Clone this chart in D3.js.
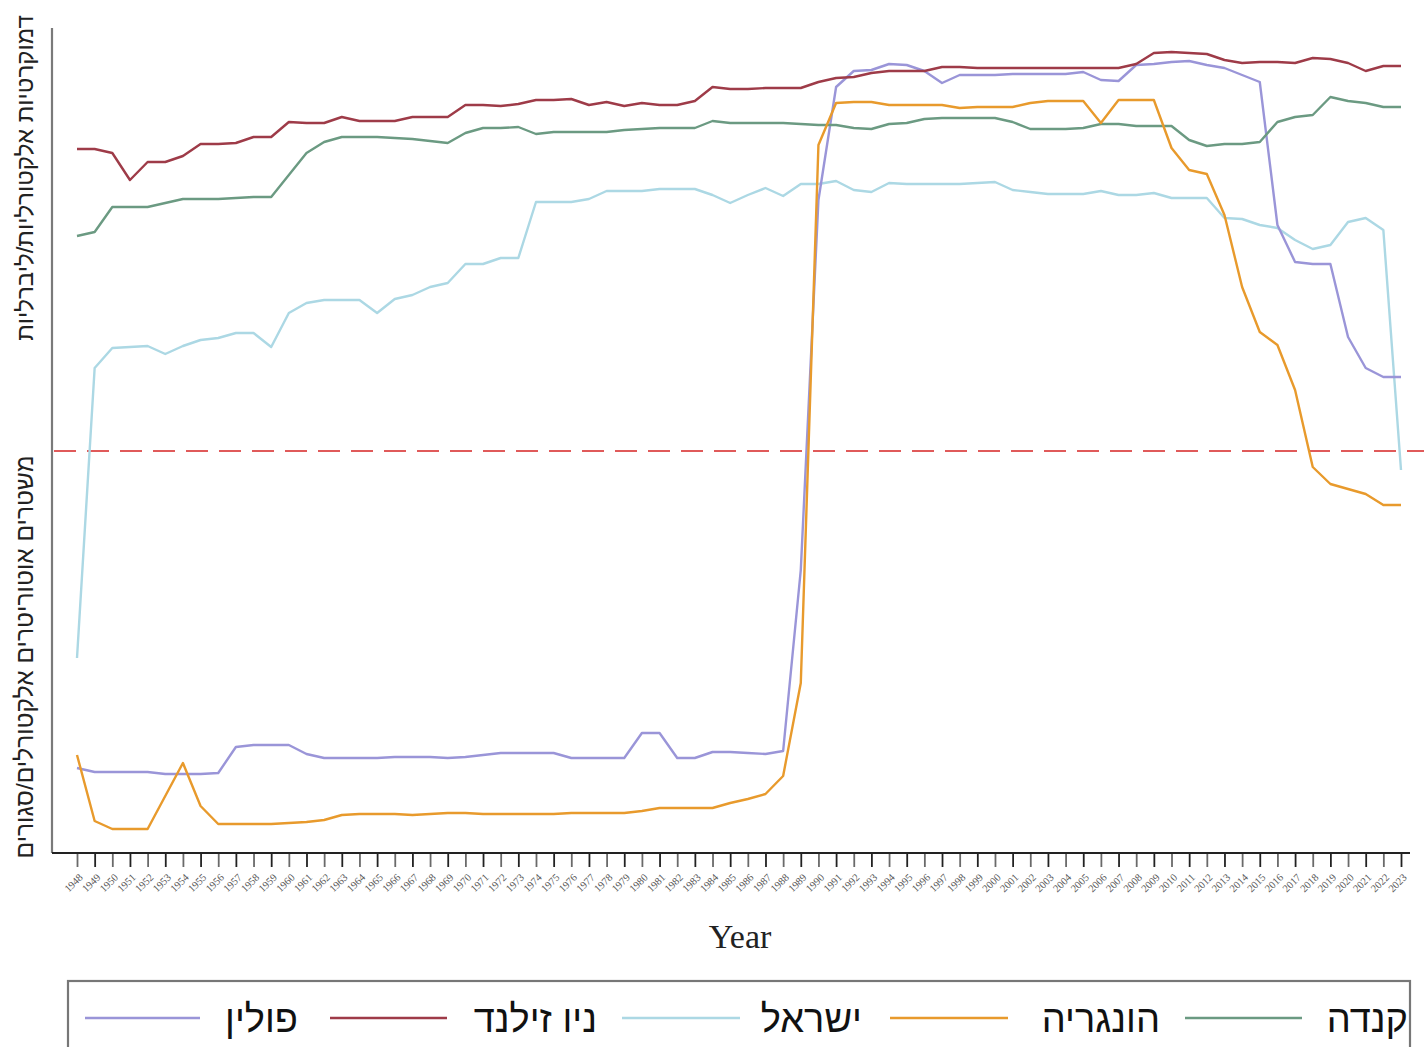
<!DOCTYPE html>
<html lang="he">
<head>
<meta charset="utf-8">
<script src="https://cdn.jsdelivr.net/npm/d3@7/dist/d3.min.js"></script>
<style>
  html, body { margin: 0; padding: 0; background: #fff; }
  svg { display: block; }
</style>
</head>
<body>
<svg id="chart" width="1424" height="1047"></svg>
<script>
// ---------- DATA ----------
const years = d3.range(1948, 2024);

const canada = [6.17,6.21,6.46,6.46,6.46,6.50,6.54,6.54,6.54,6.55,6.56,6.56,6.78,7.00,7.11,7.16,7.16,7.16,7.15,7.14,
7.12,7.10,7.20,7.25,7.25,7.26,7.19,7.21,7.21,7.21,7.21,7.23,7.24,7.25,7.25,7.25,7.32,7.30,7.30,7.30,
7.30,7.29,7.28,7.28,7.25,7.24,7.29,7.30,7.34,7.35,7.35,7.35,7.35,7.31,7.24,7.24,7.24,7.25,7.29,7.29,
7.27,7.27,7.27,7.13,7.07,7.09,7.09,7.11,7.31,7.36,7.38,7.56,7.52,7.50,7.46,7.46];

const hungary = [0.98,0.32,0.24,0.24,0.24,0.57,0.90,0.47,0.29,0.29,0.29,0.29,0.30,0.31,0.33,0.38,0.39,0.39,0.39,0.38,
0.39,0.40,0.40,0.39,0.39,0.39,0.39,0.39,0.40,0.40,0.40,0.40,0.42,0.45,0.45,0.45,0.45,0.50,0.54,0.59,
0.77,1.70,7.08,7.50,7.51,7.51,7.48,7.48,7.48,7.48,7.45,7.46,7.46,7.46,7.50,7.52,7.52,7.52,7.30,7.53,
7.53,7.53,7.05,6.83,6.79,6.38,5.66,5.21,5.08,4.63,3.86,3.69,3.64,3.59,3.48,3.48];

const israel = [1.95,4.85,5.05,5.06,5.07,4.99,5.07,5.13,5.15,5.20,5.20,5.06,5.40,5.50,5.53,5.53,5.53,5.40,5.54,5.58,
5.66,5.70,5.89,5.89,5.95,5.95,6.51,6.51,6.51,6.54,6.62,6.62,6.62,6.64,6.64,6.64,6.58,6.50,6.58,6.65,
6.57,6.69,6.69,6.72,6.63,6.61,6.70,6.69,6.69,6.69,6.69,6.70,6.71,6.63,6.61,6.59,6.59,6.59,6.62,6.58,
6.58,6.60,6.55,6.55,6.55,6.35,6.34,6.28,6.25,6.13,6.04,6.08,6.31,6.35,6.23,3.83];

const newZealand = [7.04,7.04,7.00,6.73,6.91,6.91,6.97,7.09,7.09,7.10,7.16,7.16,7.31,7.30,7.30,7.36,7.32,7.32,7.32,7.36,
7.36,7.36,7.48,7.48,7.47,7.49,7.53,7.53,7.54,7.48,7.51,7.47,7.50,7.48,7.48,7.52,7.66,7.64,7.64,7.65,
7.65,7.65,7.71,7.75,7.76,7.80,7.82,7.82,7.82,7.86,7.86,7.85,7.85,7.85,7.85,7.85,7.85,7.85,7.85,7.85,
7.89,8.00,8.01,8.00,7.99,7.93,7.90,7.91,7.91,7.90,7.95,7.94,7.90,7.82,7.87,7.87];

const poland = [0.85,0.81,0.81,0.81,0.81,0.79,0.79,0.79,0.80,1.06,1.08,1.08,1.08,0.99,0.95,0.95,0.95,0.95,0.96,0.96,
0.96,0.95,0.96,0.98,1.00,1.00,1.00,1.00,0.95,0.95,0.95,0.95,1.20,1.20,0.95,0.95,1.01,1.01,1.00,0.99,
1.02,2.83,6.53,7.66,7.82,7.83,7.89,7.88,7.82,7.70,7.78,7.78,7.78,7.79,7.79,7.79,7.79,7.81,7.73,7.72,
7.88,7.89,7.91,7.92,7.88,7.85,7.78,7.71,6.28,5.91,5.89,5.89,5.16,4.85,4.76,4.76];

const threshold = 4.02;

// series in legend order (right to left)
const seriesNames = ["קנדה", "הונגריה", "ישראל", "ניו זילנד", "פולין"];
const seriesValues = [canada, hungary, israel, newZealand, poland];
const seriesColors = ["#6b9a82", "#e89a2c", "#acd8e4", "#9e3b48", "#9a95d8"];

const yLabelTop = "דמוקרטיות אלקטורליות/ליברליות";
const yLabelBottom = "משטרים אוטוריטרים אלקטורלים/סגורים";
const xTitle = "Year";

// ---------- CHART ----------
const svg = d3.select("#chart");

const x = d3.scaleLinear().domain([1948, 2023]).range([77, 1401]);
const y = d3.scaleLinear().domain([0, 8.25]).range([853, 28]);

const plotLeft = 52, plotRight = 1410;

// y axis line
svg.append("line")
  .attr("x1", plotLeft).attr("x2", plotLeft)
  .attr("y1", y(8.25)).attr("y2", y(0))
  .attr("stroke", "#7a7a7a").attr("stroke-width", 2.2);

const xAxis = d3.axisBottom(x)
  .tickValues(years)
  .tickFormat(d3.format("d"))
  .tickSizeOuter(0)
  .tickSizeInner(14);

const gx = svg.append("g")
  .attr("transform", `translate(0,${y(0)})`)
  .call(xAxis);

gx.select(".domain").remove();
gx.append("line")
  .attr("x1", plotLeft).attr("x2", plotRight)
  .attr("y1", 0).attr("y2", 0)
  .attr("stroke", "#222").attr("stroke-width", 2);

gx.selectAll(".tick line")
  .attr("stroke", (d, i) => i % 2 ? "#222" : "#6a6a6a")
  .attr("stroke-width", 1.8);

gx.selectAll(".tick text")
  .attr("font-family", "'Liberation Serif', serif")
  .attr("font-size", 10.5)
  .attr("fill", "#555")
  .attr("text-anchor", "end")
  .attr("dy", null)
  .attr("y", null)
  .attr("transform", "translate(6,25) rotate(-45)");

// x title
svg.append("text")
  .attr("x", 740).attr("y", 948)
  .attr("text-anchor", "middle")
  .attr("font-family", "'Liberation Serif', serif")
  .attr("font-size", 34)
  .attr("fill", "#222")
  .text(xTitle);

// y labels (rotated)
svg.append("text")
  .attr("transform", `translate(33,${y(6.75)}) rotate(-90)`)
  .attr("text-anchor", "middle")
  .attr("font-family", "'Liberation Sans', 'DejaVu Sans', sans-serif")
  .attr("font-size", 24)
  .attr("fill", "#222")
  .text(yLabelTop);

svg.append("text")
  .attr("transform", `translate(33,${y(1.96)}) rotate(-90)`)
  .attr("text-anchor", "middle")
  .attr("font-family", "'Liberation Sans', 'DejaVu Sans', sans-serif")
  .attr("font-size", 24.5)
  .attr("fill", "#222")
  .text(yLabelBottom);

// threshold line
svg.append("line")
  .attr("x1", plotLeft + 2).attr("x2", plotRight + 14)
  .attr("y1", y(threshold)).attr("y2", y(threshold))
  .attr("stroke", "#e05a5a")
  .attr("stroke-width", 2.2)
  .attr("stroke-dasharray", "22,11");

// series lines
const line = d3.line()
  .x((d, i) => x(years[i]))
  .y(d => y(d));

const drawOrder = [2, 4, 3, 0, 1]; // israel, poland, nz, canada, hungary
drawOrder.forEach(k => {
  svg.append("path")
    .datum(seriesValues[k])
    .attr("fill", "none")
    .attr("stroke", seriesColors[k])
    .attr("stroke-width", 2.4)
    .attr("stroke-linejoin", "round")
    .attr("d", line);
});

// legend
svg.append("rect")
  .attr("x", 68).attr("y", 981)
  .attr("width", 1342).attr("height", 120)
  .attr("fill", "none")
  .attr("stroke", "#777")
  .attr("stroke-width", 2.2);

const legTextRight = [1408, 1160, 862, 597, 298];
const legLine = [[1185, 1302], [890, 1008], [622, 740], [330, 447], [85, 200]];
const legY = 1018;

seriesNames.forEach((name, i) => {
  svg.append("line")
    .attr("x1", legLine[i][0]).attr("x2", legLine[i][1])
    .attr("y1", legY).attr("y2", legY)
    .attr("stroke", seriesColors[i])
    .attr("stroke-width", 2.6);
  svg.append("text")
    .attr("x", legTextRight[i]).attr("y", legY + 14)
    .attr("text-anchor", "end")
    .attr("font-family", "'Liberation Sans', 'DejaVu Sans', sans-serif")
    .attr("font-size", 38)
    .attr("fill", "#111")
    .text(name);
});
</script>
</body>
</html>
